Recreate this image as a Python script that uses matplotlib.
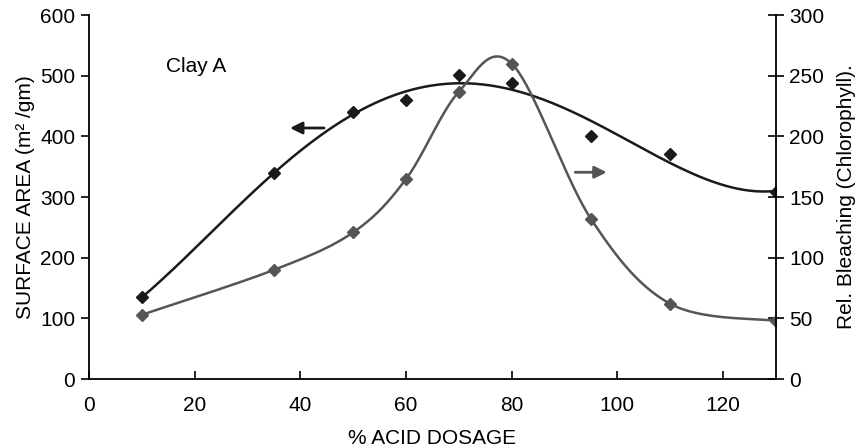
import numpy as np
import matplotlib.pyplot as plt

plt.rcParams['font.family'] = ['Liberation Sans', 'DejaVu Sans']

acid = [10, 35, 50, 60, 70, 80, 95, 110, 130]
surface_area = [135, 339, 440, 460, 502, 488, 400, 371, 308]
bleaching = [53, 90, 121, 165, 237, 260, 132, 62, 48]

black = '#1a1a1a'
grey = '#555555'
fs = 15


def smooth(xs, ys, xr, yr, n=40):
    # excel style smoothed line: bezier pieces in normalised space
    p = np.column_stack([np.array(xs) / xr, np.array(ys) / yr])
    p = np.vstack([p[0], p, p[-1]])
    out = []
    for i in range(1, len(p) - 2):
        p0, p1, p2, p3 = p[i - 1], p[i], p[i + 1], p[i + 2]
        c1 = p1 + (p2 - p0) / 6
        c2 = p2 - (p3 - p1) / 6
        t = np.linspace(0, 1, n)[:, None]
        seg = (1 - t) ** 3 * p1 + 3 * (1 - t) ** 2 * t * c1 + 3 * (1 - t) * t ** 2 * c2 + t ** 3 * p2
        out.append(seg)
    out = np.vstack(out)
    return out[:, 0] * xr, out[:, 1] * yr


fig, ax = plt.subplots(figsize=(8.65, 4.48), dpi=100)
fig.subplots_adjust(left=0.103, right=0.897, top=0.966, bottom=0.154)
ax2 = ax.twinx()

# trend line for surface area
coef = np.polyfit(acid, surface_area, 4)
xx = np.linspace(acid[0], acid[-1], 200)
ax.plot(xx, np.polyval(coef, xx), color=black, lw=1.8)
ax.plot(acid, surface_area, 'D', color=black, ms=6, ls='none')

sx, sy = smooth(acid, bleaching, 130, 300)
ax2.plot(sx, sy, color=grey, lw=1.8)
ax2.plot(acid, bleaching, 'D', color=grey, ms=6, ls='none')

ax.set_xlim(0, 130)
ax.set_ylim(0, 600)
ax2.set_ylim(0, 300)
ax.set_xticks(range(0, 121, 20))
ax.set_yticks(range(0, 601, 100))
ax2.set_yticks(range(0, 301, 50))

for a in (ax, ax2):
    a.spines['top'].set_visible(False)
ax.spines['right'].set_visible(False)
ax2.spines['left'].set_visible(False)
ax2.spines['bottom'].set_visible(False)
ax.spines['left'].set_linewidth(1.3)
ax.spines['bottom'].set_linewidth(1.3)
ax2.spines['right'].set_linewidth(1.3)

ax.tick_params(axis='y', direction='out', length=6, width=1.2, labelsize=fs, pad=4)
ax.tick_params(axis='x', direction='in', length=6, width=1.2, labelsize=fs, pad=12)
ax2.tick_params(axis='y', direction='inout', length=11, width=1.2, labelsize=fs, pad=4)

ax.set_xlabel('% ACID DOSAGE', fontsize=fs, labelpad=10)
ax.set_ylabel('SURFACE AREA (m² /gm)', fontsize=fs, labelpad=4)
ax2.set_ylabel('Rel. Bleaching (Chlorophyll).', fontsize=fs, labelpad=9)

ax.text(14.5, 516, 'Clay A', fontsize=fs, va='center')
ax.annotate('', xy=(37.5, 414), xytext=(45, 414),
            arrowprops=dict(arrowstyle='-|>', color=black, lw=2, mutation_scale=18))
ax.annotate('', xy=(98.5, 341), xytext=(91.5, 341),
            arrowprops=dict(arrowstyle='-|>', color=grey, lw=2, mutation_scale=18))

fig.savefig('out.png')
